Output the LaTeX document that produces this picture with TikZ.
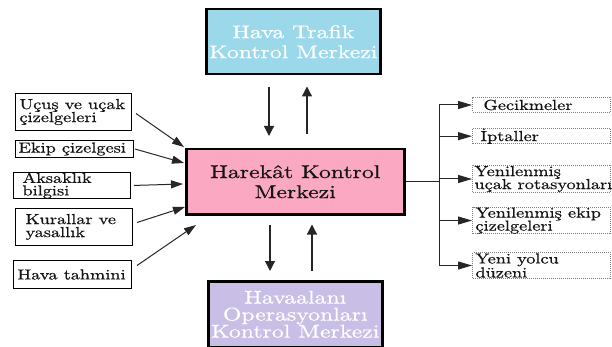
\documentclass[tikz,border=0pt]{standalone}
\usepackage{graphicx}
\usepackage{fontspec}
\setmainfont{lmroman10-regular.otf}[FakeBold=0.6]
\usetikzlibrary{arrows.meta}
\newcommand{\wl}[1]{\scalebox{1.29}[1]{#1}}
\newcommand{\ws}[1]{\scalebox{1.26}[1]{#1}}
\definecolor{topblue}{HTML}{9BD8EA}
\definecolor{hkpink}{HTML}{FBA9C3}
\definecolor{lav}{HTML}{C8BEE6}
\definecolor{txt}{HTML}{141414}
\begin{document}
\begin{tikzpicture}[x=1pt,y=-1pt,
  bigbox/.style={draw=black, line width=2.5pt, anchor=north west, align=center,
    font=\fontsize{18.4}{20}\selectfont, inner sep=0pt},
  lbox/.style={draw=black, line width=1pt, anchor=north west, align=left,
    font=\fontsize{14.5}{13}\selectfont, inner ysep=0pt, text=txt},
  rbox/.style={draw=gray, densely dotted, line width=1pt, anchor=north west, align=left,
    font=\fontsize{14.5}{13}\selectfont, inner ysep=0pt, minimum width=138pt, text=txt},
  larr/.style={draw=black!85, line width=1pt, -{Triangle[length=12pt,width=8pt]}},
  rarr/.style={draw=black!85, line width=1pt, -{Triangle[length=14pt,width=8pt]}},
  varr/.style={draw=black!85, line width=1.2pt, -{Triangle[length=10pt,width=10pt]}},
  link/.style={draw=black!85, line width=1pt}]
\useasboundingbox (0,0) rectangle (612,347);

% main boxes
\node[bigbox, fill=topblue, text=white, minimum width=174pt, minimum height=65pt] (atc) at (205,8) {\wl{Hava Trafik}\\\wl{Kontrol Merkezi}};
\node[bigbox, fill=hkpink, text=txt, minimum width=218pt, minimum height=65pt] (hk) at (185,148) {\wl{Harekât Kontrol}\\\wl{Merkezi}};
\node[bigbox, fill=lav, text=white, minimum width=174pt, minimum height=66pt, font=\fontsize{18.4}{17}\selectfont] (aoc) at (207,280) {\wl{Havaalanı}\\\wl{Operasyonları}\\\wl{Kontrol Merkezi}};

% left boxes
\node[lbox, minimum width=116pt, minimum height=37pt, text width=108pt, inner xsep=4pt] (l1) at (15,93) {\ws{Uçuş ve uçak}\\\ws{çizelgeleri}};
\node[lbox, minimum width=118pt, minimum height=17pt, text width=112pt, inner xsep=3pt] (l2) at (15,140) {\ws{Ekip çizelgesi}};
\node[lbox, minimum width=117pt, minimum height=25pt, text width=99pt, inner xsep=9pt, font=\fontsize{14.5}{12.5}\selectfont] (l3) at (13,172) {\ws{Aksaklık}\\\ws{bilgisi}};
\node[lbox, minimum width=117pt, minimum height=37pt, text width=97pt, inner xsep=10pt] (l4) at (15,208) {\ws{Kurallar ve}\\\ws{yasallık}};
\node[lbox, minimum width=118pt, minimum height=28pt, text width=110pt, inner xsep=4pt] (l5) at (13,260) {\ws{Hava tahmini}};

% right boxes
\node[rbox, minimum height=15pt, text width=116pt, inner xsep=11pt] (r1) at (472,97) {\ws{Gecikmeler}};
\node[rbox, minimum height=15pt, text width=122pt, inner xsep=8pt] (r2) at (472,128) {\ws{İptaller}};
\node[rbox, minimum height=27pt, text width=134pt, inner xsep=2pt] (r3) at (472,165) {\ws{Yenilenmiş}\\\ws{uçak rotasyonları}};
\node[rbox, minimum height=26pt, text width=132pt, inner xsep=3pt] (r4) at (472,207) {\ws{Yenilenmiş ekip}\\\ws{çizelgeleri}};
\node[rbox, minimum height=26pt, text width=132pt, inner xsep=3pt] (r5) at (472,252) {\ws{Yeni yolcu}\\\ws{düzeni}};

% vertical arrows
\coordinate (x1) at (269,0);
\coordinate (x2) at (307,0);
\coordinate (x3) at (270,0);
\coordinate (x4) at (312,0);
\draw[varr, shorten <=12pt, shorten >=12pt] (atc.south -| x1) -- (hk.north -| x1);
\draw[varr, shorten <=14pt, shorten >=11pt] (hk.north -| x2) -- (atc.south -| x2);
\draw[varr, shorten <=9pt, shorten >=9pt] (hk.south -| x3) -- (aoc.north -| x3);
\draw[varr, shorten <=9pt, shorten >=9pt] (aoc.north -| x4) -- (hk.south -| x4);

% left arrows
\coordinate (t1) at (184,147);
\coordinate (t2) at (184,163);
\coordinate (t3) at (183,184);
\coordinate (t4) at (185,207);
\coordinate (t5) at (196,225);
\draw[larr] ([shift={(4,1.5)}]l1.east) -- (t1);
\draw[larr] ([shift={(1,0)}]l2.east) -- (t2);
\draw[larr] ([shift={(3,0)}]l3.east) -- (t3);
\draw[larr] ([shift={(4,-4.5)}]l4.east) -- (t4);
\draw[larr] ([shift={(5,-9)}]l5.east) -- (t5);

% right tree
\coordinate (tx) at (439,0);
\draw[link] (hk.east) -- (hk.east -| tx);
\draw[link] (tx |- r1.west) -- (tx |- r5.west);
\draw[rarr] (tx |- r1.west) -- (r1.west);
\draw[rarr] (tx |- r2.west) -- (r2.west);
\draw[rarr] (tx |- r3.west) -- (r3.west);
\draw[rarr] (tx |- r4.west) -- (r4.west);
\draw[rarr] (tx |- r5.west) -- (r5.west);
\end{tikzpicture}
\end{document}
